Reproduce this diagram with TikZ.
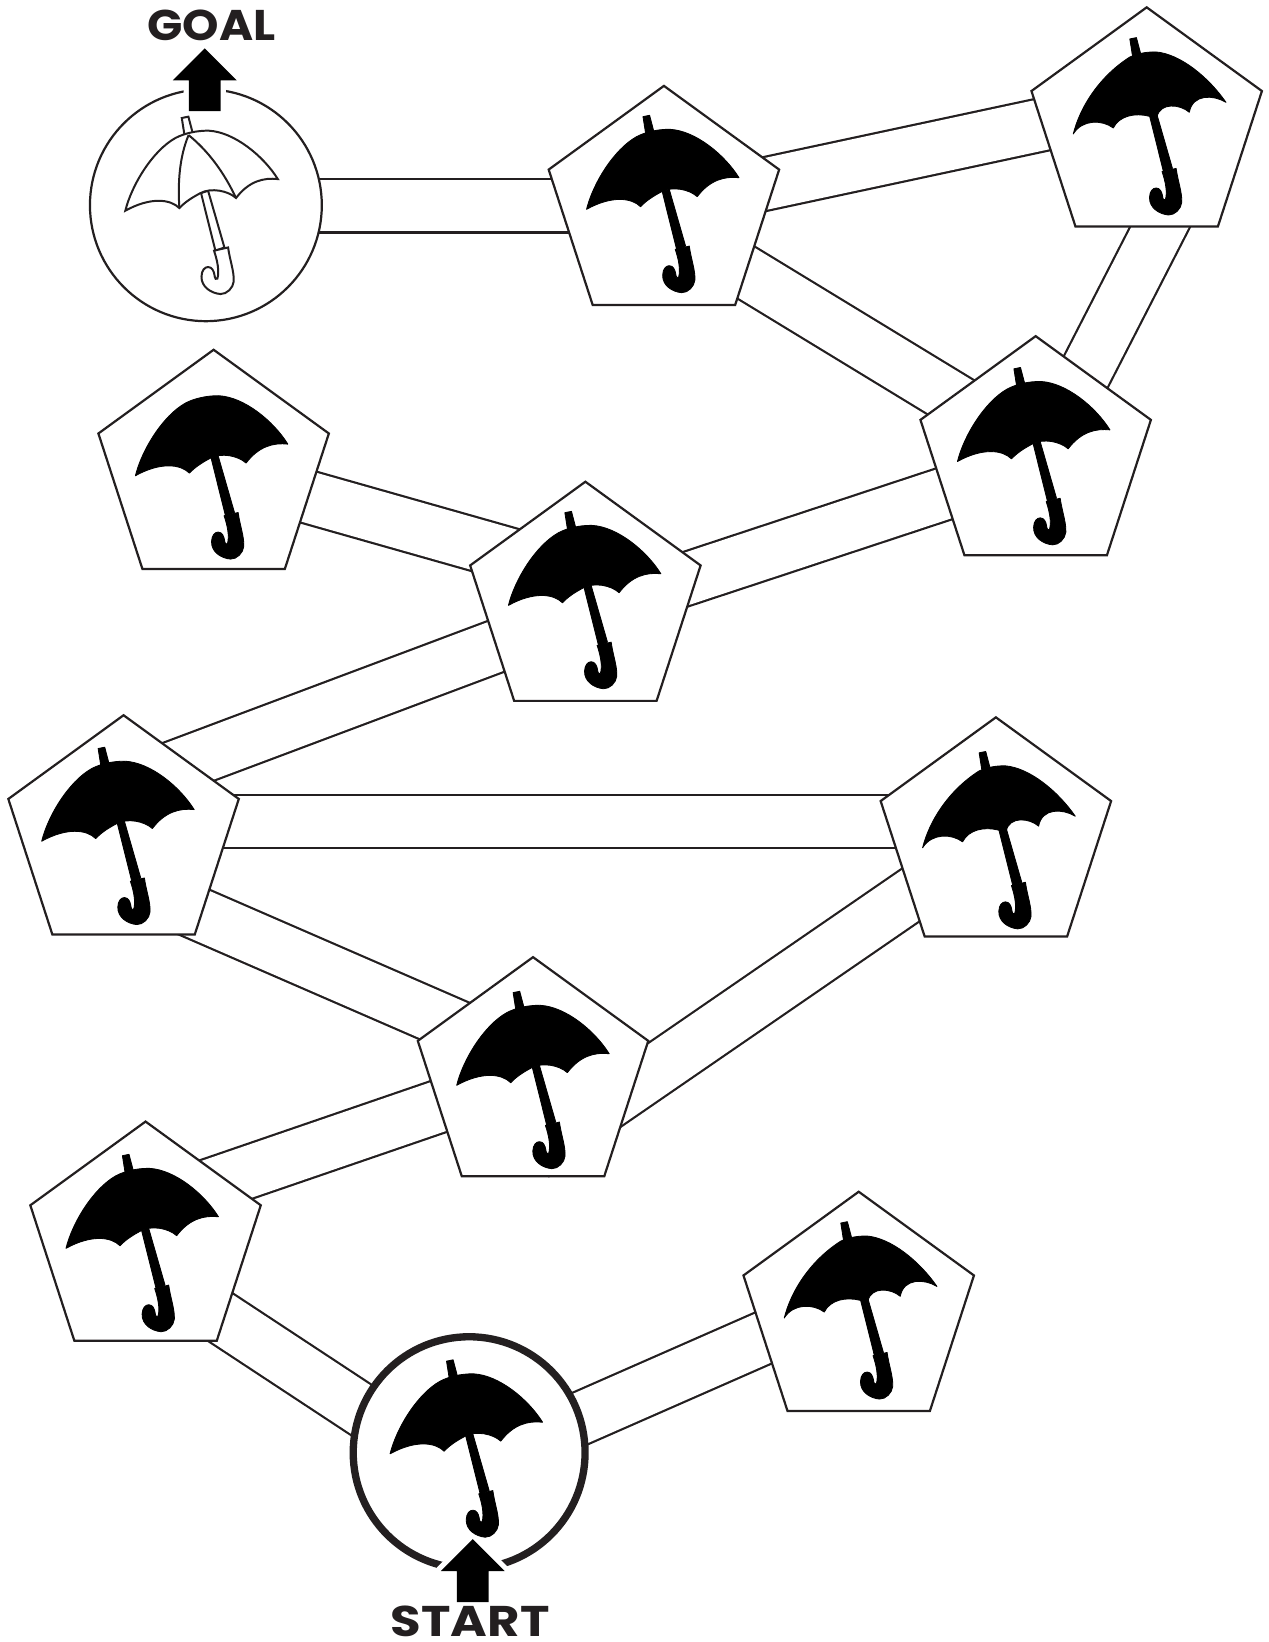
\documentclass[tikz,border=0pt]{standalone}
\usepackage{fontspec}
\setmainfont{Poppins}
\usetikzlibrary{shapes.geometric,shapes.arrows,backgrounds}
\definecolor{ink}{HTML}{231F20}
\newcommand{\brollystub}{\path[pic actions] (-20,-86.3) -- (-13.7,-87.6) -- (-9.6,-72) -- (-17.5,-70.4) -- cycle;}
\newcommand{\brollystick}{
  \path[pic actions] (-1.6,-14.6) -- (5.1,-16.9) -- (20.7,37.3) -- (12.1,40.4) -- cycle;
  \path[pic actions] (10.8,40.4) -- (24.2,37.3) .. controls (26,50) and (30,60) .. (29.6,69.7) .. controls (29,76) and (23,82) .. (16.9,81.8) .. controls (8,81) and (-1.5,75) .. (-1.2,65) .. controls (-1,59) and (2,56) .. (5.1,56) .. controls (9,56) and (10.5,60) .. (11.1,63) .. controls (11.5,67) and (13,69) .. (14,67) .. controls (16,60) and (14,50) .. cycle;}
\newcommand{\brollycanopy}{\path[pic actions] (-73.9,2.2) .. controls (-68,-22) and (-48,-55) .. (-26.1,-67.2) .. controls (-18,-71.5) and (-6,-74.4) .. (5.7,-74.2) .. controls (30,-73) and (58,-50) .. (71.7,-28) .. controls (58,-29.5) and (44,-26) .. (31.8,-9.9) .. controls (24,-17) and (8,-20) .. (-2.2,-14.6) .. controls (-10,-10.5) and (-17,-6) .. (-22.3,-0.3) .. controls (-31,-9) and (-50,-11) .. cycle;}
\tikzset{
  penta/.style={draw=ink,fill=white,line width=2.1,regular polygon,regular polygon sides=5,minimum size=231.4,inner sep=0,outer sep=0},
  goalring/.style={circle,draw=ink,fill=white,line width=2.1,minimum size=221.4,inner sep=0,outer sep=0},
  startring/.style={circle,draw=ink,fill=white,line width=7,minimum size=221.4,inner sep=0,outer sep=0},
  road/.style={draw=ink,line width=2.1,double=white,double distance=48.8},
  blockarrow/.style={single arrow,fill=black,anchor=tip,shape border rotate=90,minimum height=60,minimum width=61,single arrow head extend=15.25,inner sep=15,outer sep=0,preaction={draw=white,line width=10,line join=round}},
  caption/.style={font=\bfseries\fontsize{41}{41}\selectfont,text=ink,inner sep=0},
  solidbrolly/.style={fill=black,draw=black,line width=0.8,line join=round},
  umbrella/.pic={\brollystub \brollystick \brollycanopy},
  umbrellabare/.pic={\brollystick \brollycanopy},
  umbrellabumpy/.pic={
    \brollystub \brollystick
    \path[pic actions] (-74,4.4) .. controls (-68,-20) and (-50,-50) .. (-19.9,-69.1) .. controls (-13,-72) and (-6,-74) .. (4.9,-73.9) .. controls (28,-72) and (55,-50) .. (71.8,-25.8) .. controls (60,-33) and (40,-34) .. (36.8,-16.3) .. controls (28,-24) and (9,-26) .. (5.9,-11.8) -- (-1.5,-12.5) .. controls (-15,-16) and (-30,-13) .. (-35.8,-1.3) .. controls (-46,-9) and (-65,-10) .. cycle;
  },
  umbrellaribs/.pic={
    \path[pic actions] (-22.3,-0.3) .. controls (-24,-25) and (-22,-50) .. (-13.5,-70);
    \path[pic actions] (31.8,-9.9) .. controls (20,-35) and (5,-55) .. (-13.5,-70);
  }
}
\begin{document}
\begin{tikzpicture}[x=1pt,y=-1pt]
\useasboundingbox (0,0) rectangle (1211,1568);
\node[goalring] (g) at (196.6,196) {};
\node[penta] (p1) at (634,197.7) {};
\node[penta] (p2) at (1095,122.7) {};
\node[penta] (p3) at (989,436.7) {};
\node[penta] (p4) at (204,449.7) {};
\node[penta] (p5) at (559,575.7) {};
\node[penta] (p6) at (118,798.7) {};
\node[penta] (p7) at (951,800.7) {};
\node[penta] (p8) at (509,1029.7) {};
\node[penta] (p9) at (139,1186.7) {};
\node[penta] (p10) at (820,1253.7) {};
\node[startring] (s) at (448,1387.2) {};
\begin{scope}[on background layer]
\draw[road] ([shift={(0,0.5)}]g.center) -- ([shift={(0,-1.2)}]p1.center);
\draw[road] ([shift={(0,-1.3)}]p1.center) -- ([shift={(0,-25)}]p2.center);
\draw[road] ([shift={(0,14.8)}]p1.center) -- ([shift={(0,-8)}]p3.center);
\draw[road] ([shift={(61,0)}]p2.center) -- ([shift={(6,0)}]p3.center);
\draw[road] ([shift={(0,6)}]p3.center) -- ([shift={(0,9)}]p5.center);
\draw[road] ([shift={(0,-0.7)}]p4.center) -- ([shift={(0,-26)}]p5.center);
\draw[road] ([shift={(0,9.5)}]p5.center) -- ([shift={(0,-48)}]p6.center);
\draw[road] ([shift={(0,-14)}]p6.center) -- ([shift={(0,-16)}]p7.center);
\draw[road] ([shift={(0,43)}]p6.center) -- ([shift={(0,-18)}]p8.center);
\draw[road] ([shift={(0,-2)}]p7.center) -- ([shift={(0,73)}]p8.center);
\draw[road] ([shift={(0,-4)}]p8.center) -- ([shift={(0,-34)}]p9.center);
\draw[road] ([shift={(0,24)}]p9.center) -- ([shift={(0,27)}]s.center);
\draw[road] ([shift={(0,14)}]s.center) -- ([shift={(0,-16)}]p10.center);
\end{scope}
\node[blockarrow] (goalarrow) at (195.5,46.2) {};
\node[blockarrow] (startarrow) at (451.4,1469.8) {};
\node[caption,xscale=1.08] (goallabel) at (202,24) {GOAL};
\node[caption,xscale=1.16] (startlabel) at (449,1548.5) {START};
\pic[draw=ink,fill=white,line width=1.9] at ([shift={(-3,3)}]g.center) {umbrella};
\pic[draw=ink,line width=1.9] at ([shift={(-3,3)}]g.center) {umbrellaribs};
\pic[solidbrolly] at (p1.center) {umbrella};
\pic[solidbrolly] at ([shift={(3.9,0.8)}]p2.center) {umbrellabumpy};
\pic[solidbrolly] at ([shift={(-0.8,1.8)}]p3.center) {umbrella};
\pic[solidbrolly] at ([shift={(-0.8,2.4)}]p4.center) {umbrellabare};
\pic[solidbrolly] at ([shift={(0.4,0.2)}]p5.center) {umbrella};
\pic[solidbrolly] at ([shift={(-4.3,2.4)}]p6.center) {umbrella};
\pic[solidbrolly] at ([shift={(4,4.5)}]p7.center) {umbrellabumpy};
\pic[solidbrolly] at ([shift={(1,4.5)}]p8.center) {umbrella};
\pic[solidbrolly] at ([shift={(-2.1,3.2)}]p9.center) {umbrella};
\pic[solidbrolly] at ([shift={(2.9,0.5)}]p10.center) {umbrellabumpy};
\pic[solidbrolly] at ([shift={(-1.6,-1.1)}]s.center) {umbrella};
\end{tikzpicture}
\end{document}
